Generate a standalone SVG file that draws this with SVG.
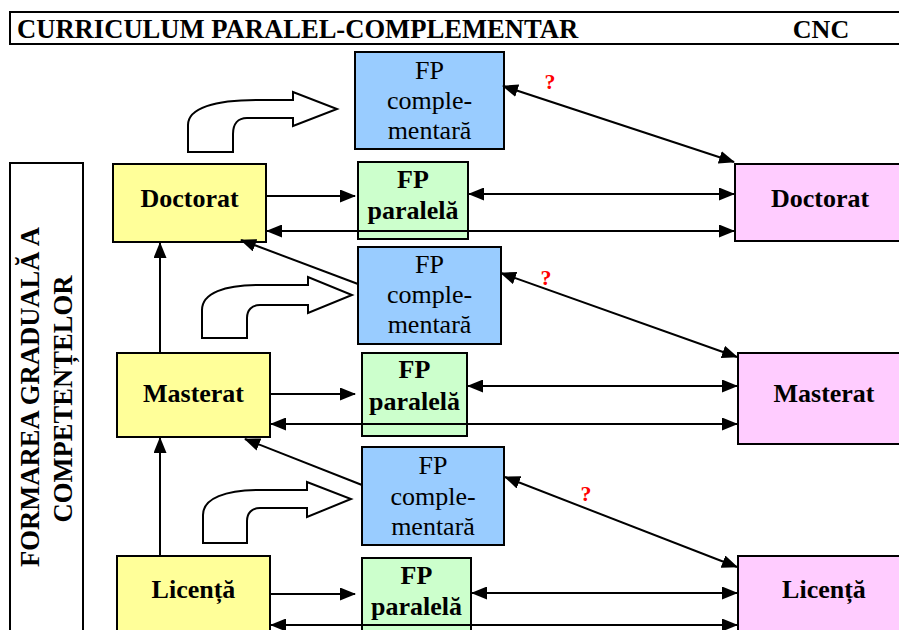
<svg xmlns="http://www.w3.org/2000/svg" width="899" height="630" viewBox="0 0 899 630">
<defs>
<marker id="ah" viewBox="0 0 16 13" refX="15" refY="6.5" markerWidth="16" markerHeight="13" markerUnits="userSpaceOnUse" orient="auto-start-reverse">
<path d="M0,0 L16,6.5 L0,13 Z" fill="#000"/>
</marker>
<style>
.box{stroke:#000;stroke-width:2}
.yel{fill:#FFFF99}.blu{fill:#99CCFF}.grn{fill:#CCFFCC}.pnk{fill:#FFCCFF}
.bt{font-family:"Liberation Serif","Times New Roman",serif;font-weight:bold;font-size:26px;text-anchor:middle;fill:#000}
.rt{font-family:"Liberation Serif","Times New Roman",serif;font-size:26px;text-anchor:middle;fill:#000}
.q{font-family:"Liberation Serif","Times New Roman",serif;font-weight:bold;font-size:22px;text-anchor:middle;fill:#FF0000}
.c{stroke:#000;stroke-width:2;fill:none}
.one{marker-end:url(#ah)}
.two{marker-start:url(#ah);marker-end:url(#ah)}
.blk{fill:#fff;stroke:#000;stroke-width:2;stroke-linejoin:miter}
</style>
</defs>
<rect width="899" height="630" fill="#fff"/>

<g id="header">
<rect x="10" y="12" width="900" height="32" fill="#fff" stroke="#000" stroke-width="2"/>
<text x="17" y="38" style="font-family:'Liberation Serif','Times New Roman',serif;font-weight:bold;font-size:26.6px">CURRICULUM PARALEL-COMPLEMENTAR</text>
<text x="821" y="38" class="bt">CNC</text>
</g>

<g id="side-label">
<rect x="10" y="163" width="73" height="480" fill="#fff" stroke="#000" stroke-width="2"/>
<text class="bt" style="font-size:26.6px" transform="translate(39,397) rotate(-90)">FORMAREA GRADUALĂ A</text>
<text class="bt" style="font-size:26.6px" transform="translate(72,399) rotate(-90)">COMPETENȚELOR</text>
</g>

<g id="fpc1">
<rect class="box blu" x="355" y="52" width="149" height="97"/>
<text class="rt" x="429.5" y="79">FP</text>
<text class="rt" x="429.5" y="109">comple-</text>
<text class="rt" x="429.5" y="139">mentară</text>
</g>
<g id="fpc2">
<rect class="box blu" x="358" y="247" width="143" height="97"/>
<text class="rt" x="429.5" y="273">FP</text>
<text class="rt" x="429.5" y="303">comple-</text>
<text class="rt" x="429.5" y="333">mentară</text>
</g>
<g id="fpc3">
<rect class="box blu" x="362" y="447" width="142" height="98"/>
<text class="rt" x="433" y="474">FP</text>
<text class="rt" x="433" y="505">comple-</text>
<text class="rt" x="433" y="535">mentară</text>
</g>

<g id="fpp1">
<rect class="box grn" x="358" y="162" width="110" height="77"/>
<text class="bt" x="413" y="188">FP</text>
<text class="bt" x="413" y="219">paralelă</text>
</g>
<g id="fpp2">
<rect class="box grn" x="362" y="353" width="105" height="83"/>
<text class="bt" x="414.5" y="378">FP</text>
<text class="bt" x="414.5" y="410">paralelă</text>
</g>
<g id="fpp3">
<rect class="box grn" x="362" y="558" width="109" height="90"/>
<text class="bt" x="416.5" y="584">FP</text>
<text class="bt" x="416.5" y="615">paralelă</text>
</g>

<g id="doc-left">
<rect class="box yel" x="113" y="164" width="153" height="78"/>
<text class="bt" x="189.5" y="207">Doctorat</text>
</g>
<g id="mas-left">
<rect class="box yel" x="117" y="353" width="153" height="84"/>
<text class="bt" x="193.5" y="402">Masterat</text>
</g>
<g id="lic-left">
<rect class="box yel" x="117" y="556" width="153" height="90"/>
<text class="bt" x="193.5" y="598">Licență</text>
</g>

<g id="doc-right">
<rect class="box pnk" x="735" y="164" width="180" height="77"/>
<text class="bt" x="820" y="207">Doctorat</text>
</g>
<g id="mas-right">
<rect class="box pnk" x="738" y="353" width="180" height="91"/>
<text class="bt" x="824" y="402">Masterat</text>
</g>
<g id="lic-right">
<rect class="box pnk" x="738" y="556" width="180" height="90"/>
<text class="bt" x="824" y="598">Licență</text>
</g>

<g id="block-arrows">
<path class="blk" d="M188,152 L188,125 C188,108 215,100 257,100 L293,100 L293,92 L337,109 L293,126 L293,118 L247,118 C238,118 233,124 233,134 L233,152 Z"/>
<path class="blk" d="M202,338 L202,310 C202,293 225,285 258,285 L308,285 L308,277 L352,295 L308,313 L308,305 L260,305 C252,305 247,310 247,318 L247,338 Z"/>
<path class="blk" d="M203,543 L203,515 C203,498 226,490 260,490 L307,490 L307,482 L351,499 L307,517 L307,508 L260,508 C252,508 247,513 247,521 L247,543 Z"/>
</g>

<g id="connectors">
<line class="c one" x1="266" y1="196" x2="355" y2="196"/>
<line class="c two" x1="469" y1="194" x2="734" y2="194"/>
<line class="c two" x1="267" y1="231" x2="734" y2="231"/>
<line class="c two" x1="503" y1="86" x2="734" y2="162"/>
<line class="c one" x1="358" y1="284" x2="241" y2="240"/>
<line class="c one" x1="160" y1="353" x2="160" y2="243"/>

<line class="c one" x1="270" y1="394" x2="355" y2="394"/>
<line class="c two" x1="468" y1="386" x2="737" y2="386"/>
<line class="c two" x1="271" y1="424" x2="737" y2="424"/>
<line class="c two" x1="501" y1="273" x2="737" y2="357"/>
<line class="c one" x1="362" y1="485" x2="245" y2="439"/>
<line class="c one" x1="160" y1="556" x2="160" y2="438"/>

<line class="c one" x1="270" y1="594" x2="355" y2="594"/>
<line class="c two" x1="472" y1="593" x2="737" y2="593"/>
<line class="c two" x1="271" y1="625" x2="737" y2="625"/>
<line class="c two" x1="505" y1="477" x2="737" y2="567"/>
</g>

<g id="labels">
<text class="q" x="550" y="89">?</text>
<text class="q" x="546" y="285">?</text>
<text class="q" x="586" y="501">?</text>
</g>
</svg>
